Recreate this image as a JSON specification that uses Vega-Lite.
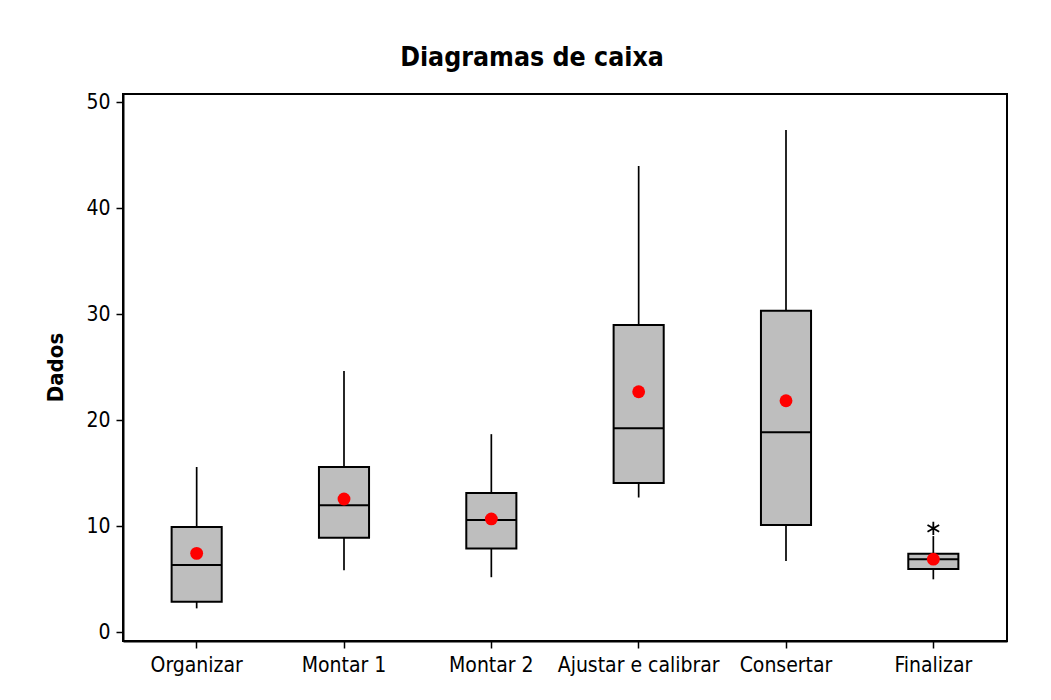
{
  "$schema": "https://vega.github.io/schema/vega-lite/v6.json",
  "autosize": "none",
  "width": 884,
  "height": 547,
  "padding": {"left": 123, "top": 94, "right": 44, "bottom": 59},
  "background": "white",
  "title": {
    "text": "Diagramas de caixa",
    "font": "DejaVu Sans Condensed",
    "fontSize": 26.5,
    "fontWeight": "bold",
    "color": "black",
    "anchor": "middle",
    "dx": -33,
    "offset": 20
  },
  "config": {
    "view": {"stroke": "black", "strokeWidth": 2},
    "font": "DejaVu Sans Condensed",
    "axis": {
      "labelFont": "DejaVu Sans Condensed",
      "labelFontSize": 21,
      "labelColor": "black",
      "domainColor": "black",
      "domainWidth": 2,
      "tickColor": "black",
      "tickWidth": 1.5,
      "tickSize": 7,
      "grid": false,
      "titleFont": "DejaVu Sans Condensed",
      "titleColor": "black"
    }
  },
  "datasets": {
    "stats": [
      {"cat": "Organizar", "lo": 2.26, "q1": 2.89, "med": 6.35, "q3": 9.93, "hi": 15.6, "mean": 7.45},
      {"cat": "Montar 1", "lo": 5.85, "q1": 8.93, "med": 11.98, "q3": 15.6, "hi": 24.66, "mean": 12.58},
      {"cat": "Montar 2", "lo": 5.2, "q1": 7.9, "med": 10.6, "q3": 13.14, "hi": 18.7, "mean": 10.7},
      {"cat": "Ajustar e calibrar", "lo": 12.73, "q1": 14.08, "med": 19.25, "q3": 28.99, "hi": 44.0, "mean": 22.7},
      {"cat": "Consertar", "lo": 6.73, "q1": 10.12, "med": 18.87, "q3": 30.34, "hi": 47.4, "mean": 21.85},
      {"cat": "Finalizar", "lo": 5.0, "q1": 5.97, "med": 6.89, "q3": 7.42, "hi": 9.08, "mean": 6.9}
    ],
    "outliers": [
      {"cat": "Finalizar", "value": 9.81}
    ]
  },
  "layer": [
    {
      "data": {"name": "stats"},
      "mark": {"type": "rule", "color": "black", "strokeWidth": 1.7},
      "encoding": {
        "x": {"field": "cat", "type": "nominal", "sort": null,
              "scale": {"paddingInner": 0, "paddingOuter": 0},
              "axis": {"title": null, "labelAngle": 0, "labelPadding": 6}},
        "y": {"field": "lo", "type": "quantitative",
              "scale": {"domain": [-0.82, 50.8], "nice": false, "zero": false},
              "axis": {"values": [0, 10, 20, 30, 40, 50], "title": "Dados",
                       "titleFontSize": 22, "titleFontWeight": "bold",
                       "titleX": -68, "titleY": 273, "titleAngle": -90,
                       "titleAlign": "center", "titleBaseline": "middle",
                       "labelPadding": 6}},
        "y2": {"field": "hi"}
      }
    },
    {
      "data": {"name": "stats"},
      "mark": {"type": "bar", "fill": "#BEBEBE", "stroke": "black", "strokeWidth": 2, "width": {"band": 0.34}},
      "encoding": {
        "x": {"field": "cat", "type": "nominal", "sort": null},
        "y": {"field": "q1", "type": "quantitative"},
        "y2": {"field": "q3"}
      }
    },
    {
      "data": {"name": "stats"},
      "mark": {"type": "tick", "color": "black", "size": 50, "thickness": 2, "opacity": 1},
      "encoding": {
        "x": {"field": "cat", "type": "nominal", "sort": null},
        "y": {"field": "med", "type": "quantitative"}
      }
    },
    {
      "data": {"name": "stats"},
      "mark": {"type": "point", "filled": true, "color": "#FF0000", "size": 165, "opacity": 1},
      "encoding": {
        "x": {"field": "cat", "type": "nominal", "sort": null},
        "y": {"field": "mean", "type": "quantitative"}
      }
    },
    {
      "data": {"name": "outliers"},
      "mark": {"type": "point", "shape": "M0,-1L0,1M-0.87,-0.5L0.87,0.5M-0.87,0.5L0.87,-0.5", "filled": false, "stroke": "black", "strokeWidth": 1.8, "size": 180, "opacity": 1},
      "encoding": {
        "x": {"field": "cat", "type": "nominal", "sort": null},
        "y": {"field": "value", "type": "quantitative"}
      }
    }
  ]
}
